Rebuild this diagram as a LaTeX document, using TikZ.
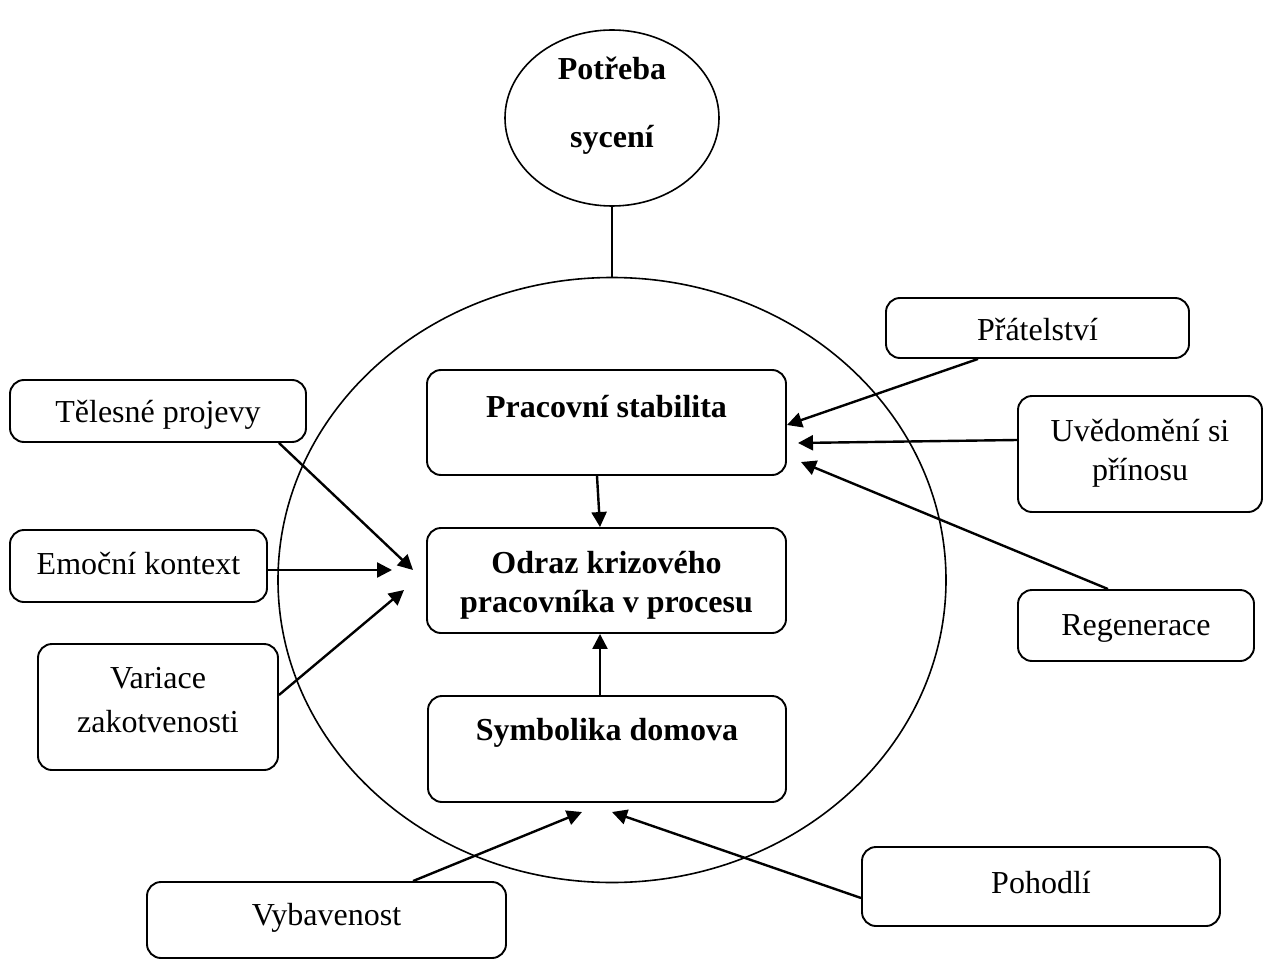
\documentclass[tikz,border=0pt]{standalone}
\usepackage{fontspec}
\setmainfont{Liberation Serif}
\usetikzlibrary{arrows.meta,shapes.geometric}

% two centred lines, baseline on the first line
\newcommand{\twolines}[2]{\begin{tabular}[t]{@{}c@{}}#1\\#2\end{tabular}}

\begin{document}
\begin{tikzpicture}[x=1pt, y=-1pt,
  txt/.style={font=\fontsize{32}{39}\selectfont},
  box/.style={draw, line width=1.9pt, rounded corners=14pt, inner sep=0pt,
              text height=24pt, txt},
  bold/.style={font=\fontsize{32}{39}\selectfont\bfseries},
  ring/.style={draw, ellipse, line width=1.6pt, inner sep=0pt},
  arr/.style={-{Triangle[length=15pt,width=15pt]}, line width=2.4pt},
  link/.style={line width=1.8pt}]

\useasboundingbox (0,0) rectangle (1263,960);

% outer circle and the need at the top
\node[ring, minimum width=668pt, minimum height=605pt] (circ) at (612,580) {};
\node[ring, bold, minimum width=214pt, minimum height=176pt,
      text height=24pt, text depth=100pt] (sy) at (612,118)
  {\fontsize{32}{68}\selectfont\twolines{Potřeba}{sycení}};
\draw[link] (sy.south) -- (circ.north);

% central boxes
\node[box, bold, minimum width=359pt, minimum height=105pt, text depth=35pt]
  (ps) at (606.5,422.5) {Pracovní stabilita};
\node[box, bold, minimum width=359pt, minimum height=105pt, text depth=39pt]
  (od) at (606.5,580.5) {\twolines{Odraz krizového}{pracovníka v procesu}};
\node[box, bold, minimum width=358pt, minimum height=106pt, text depth=42pt]
  (sd) at (607,749) {Symbolika domova};

% left boxes
\node[box, minimum width=296pt, minimum height=62pt, text depth=2pt]
  (tp) at (158,411) {Tělesné projevy};
\node[box, minimum width=257pt, minimum height=72pt, text depth=8pt]
  (ek) at (138.5,566) {Emoční kontext};
\node[box, minimum width=240pt, minimum height=126pt, text depth=62pt]
  (vz) at (158,707) {\fontsize{32}{44}\selectfont\twolines{Variace}{zakotvenosti}};

% right boxes
\node[box, minimum width=303pt, minimum height=60pt, text depth=0pt]
  (pr) at (1037.5,328) {Přátelství};
\node[box, minimum width=244pt, minimum height=116pt, text depth=50pt]
  (uv) at (1140,454) {\twolines{Uvědomění si}{přínosu}};
\node[box, minimum width=236pt, minimum height=71pt, text depth=5pt]
  (rg) at (1136,625.5) {Regenerace};

% bottom boxes
\node[box, minimum width=359pt, minimum height=76pt, text depth=14pt]
  (vb) at (326.5,920) {Vybavenost};
\node[box, minimum width=358pt, minimum height=79pt, text depth=11pt]
  (ph) at (1041,886.5) {Pohodlí};

% free arrow ends
\coordinate (tTp) at (413,570);
\coordinate (tEk) at (392,570);
\coordinate (tVz) at (404,590);
\coordinate (tUv) at (798,443);
\coordinate (tRg) at (801,462);
\coordinate (tVb) at (582,812);
\coordinate (tPh) at (612,812);

% connectors
\draw[arr] ([xshift=-9.5pt]ps.south) -- ([xshift=-6.5pt]od.north);
\draw[arr] ([xshift=-7pt]sd.north) -- ([xshift=-6.5pt]od.south);
\draw[arr] ([xshift=121pt]tp.south) -- (tTp);
\draw[arr] ([yshift=-4pt]ek.east) -- (tEk);
\draw[arr] ([yshift=12pt]vz.east) -- (tVz);
\draw[arr] ([xshift=-59.5pt]pr.south) -- ([yshift=-2.5pt]ps.east);
\draw[arr] ([yshift=14pt]uv.west) -- (tUv);
\draw[arr] ([xshift=-28pt]rg.north) -- (tRg);
\draw[arr] ([xshift=86.5pt]vb.north) -- (tVb);
\draw[arr] ([yshift=-11.5pt]ph.west) -- (tPh);

\end{tikzpicture}
\end{document}
